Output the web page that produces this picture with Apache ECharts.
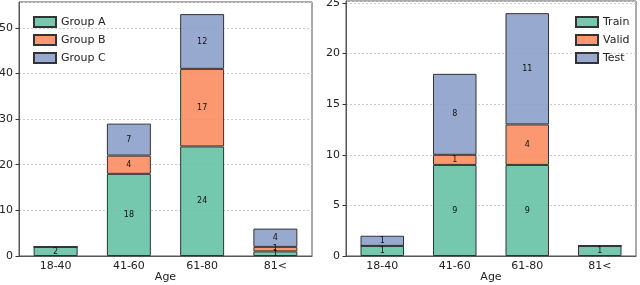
<!DOCTYPE html>
<html><head><meta charset="utf-8">
<script src="https://cdn.jsdelivr.net/npm/echarts@6/dist/echarts.min.js"></script>
<style>html,body{margin:0;padding:0;background:#fff}#c{width:640px;height:285px}</style>
</head><body><div id="c"></div>
<script>
const categories = ['18-40', '41-60', '61-80', '81<'];
const groupA = [2, 18, 24, 1];
const groupB = [0, 4, 17, 1];
const groupC = [0, 7, 12, 4];
const train = [1, 9, 9, 1];
const valid = [0, 1, 4, 0];
const test = [1, 8, 11, 0];
const leftTicks = [0, 10, 20, 30, 40, 50];
const rightTicks = [0, 5, 10, 15, 20, 25];

const colors = ['rgba(102,194,165,0.9)', 'rgba(252,141,98,0.9)', 'rgba(141,160,203,0.9)'];
const font = 'DejaVu Sans';
const chart = echarts.init(document.getElementById('c'), null, {renderer: 'canvas'});

function mk(name, data, idx, color) {
  return {
    name, type: 'bar', stack: 's' + idx, data,
    xAxisIndex: idx, yAxisIndex: idx, barWidth: '60%',
    itemStyle: {color, borderColor: '#333', borderWidth: 1},
    label: {show: true, position: 'inside', fontSize: 8, fontFamily: font, color: '#111',
      formatter: p => p.value === 0 ? '' : String(p.value)},
    emphasis: {disabled: true}
  };
}
function xAx(gi) {
  return {
    type: 'category', gridIndex: gi, data: categories,
    name: 'Age', nameLocation: 'middle', nameGap: 16, nameMoveOverlap: false,
    nameTextStyle: {fontSize: 11, fontFamily: font, color: '#222', verticalAlign: 'top'},
    axisLine: {lineStyle: {color: '#555'}},
    axisTick: {alignWithLabel: true, length: 3.5, lineStyle: {color: '#333'}},
    axisLabel: {fontSize: 11, fontFamily: font, color: '#222', margin: 5}
  };
}
function yAx(gi, max, interval, ticks) {
  return {
    type: 'value', gridIndex: gi, min: 0, max, interval,
    axisLine: {show: true, lineStyle: {color: '#555'}},
    axisTick: {show: true, length: 3.5, lineStyle: {color: '#333'}},
    axisLabel: {fontSize: 11, fontFamily: font, color: '#222', margin: 6, showMaxLabel: false,
      formatter: v => ticks.includes(v) ? String(v) : ''},
    splitLine: {show: true, lineStyle: {color: '#ccc', type: [2, 2], width: 1}}
  };
}
chart.setOption({
  animation: false,
  textStyle: {fontFamily: font},
  grid: [
    {left: 19, right: 328, top: 2, bottom: 29, show: true, borderColor: '#555', borderWidth: 1, backgroundColor: 'transparent', containLabel: false, outerBoundsMode: 'none'},
    {left: 346, right: 4, top: 1, bottom: 29, show: true, borderColor: '#555', borderWidth: 1, backgroundColor: 'transparent', containLabel: false, outerBoundsMode: 'none'}
  ],
  xAxis: [xAx(0), xAx(1)],
  yAxis: [yAx(0, 55.65, 10, leftTicks), yAx(1, 25.2, 5, rightTicks)],
  legend: [
    {data: ['Group A', 'Group B', 'Group C'], orient: 'vertical', left: 28, top: 11,
      itemWidth: 22, itemHeight: 10, itemGap: 6, icon: 'rect',
      textStyle: {fontSize: 11, fontFamily: font, color: '#222'}},
    {data: ['Train', 'Valid', 'Test'], orient: 'vertical', left: 570, top: 11,
      itemWidth: 22, itemHeight: 10, itemGap: 6, icon: 'rect',
      textStyle: {fontSize: 11, fontFamily: font, color: '#222'}}
  ],
  series: [
    mk('Group A', groupA, 0, colors[0]),
    mk('Group B', groupB, 0, colors[1]),
    mk('Group C', groupC, 0, colors[2]),
    mk('Train', train, 1, colors[0]),
    mk('Valid', valid, 1, colors[1]),
    mk('Test', test, 1, colors[2])
  ]
});
</script></body></html>
